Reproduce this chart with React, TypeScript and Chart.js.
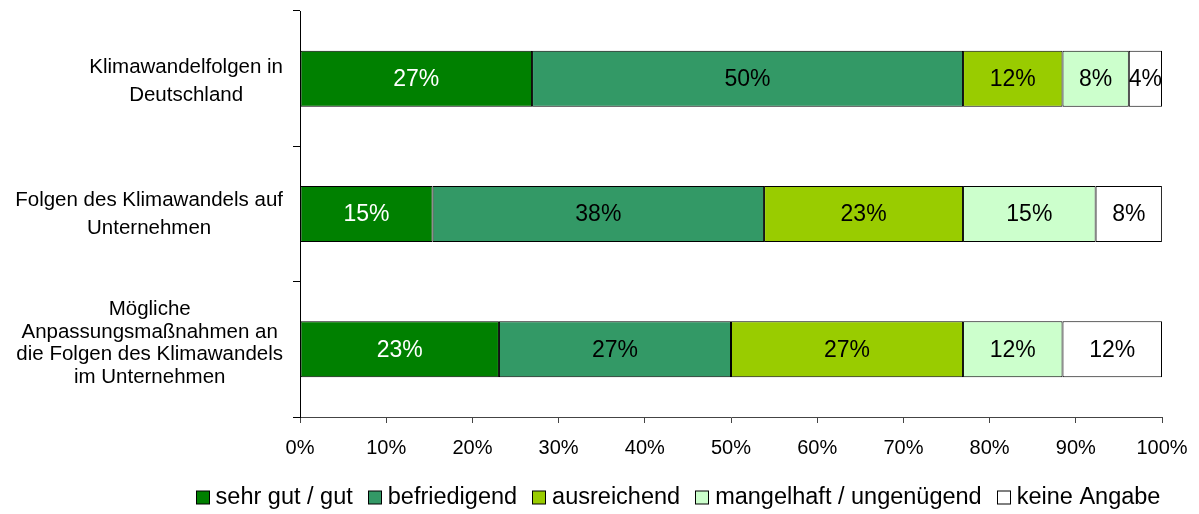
import React, { useEffect, useRef } from 'react';
import { Chart, registerables } from 'chart.js';

Chart.register(...registerables);

const categories: string[][] = [
  ['Klimawandelfolgen in', 'Deutschland'],
  ['Folgen des Klimawandels auf', 'Unternehmen'],
  ['Mögliche', 'Anpassungsmaßnahmen an', 'die Folgen des Klimawandels', 'im Unternehmen'],
];
const seriesNames = ['sehr gut / gut', 'befriedigend', 'ausreichend', 'mangelhaft / ungenügend', 'keine Angabe'];
const sehrGutGut = [26.92, 15.38, 23.08];
const befriedigend = [50.0, 38.46, 26.92];
const ausreichend = [11.54, 23.08, 26.92];
const mangelhaftUngenuegend = [7.69, 15.38, 11.54];
const keineAngabe = [3.85, 7.69, 11.54];
const xTicks = [0, 10, 20, 30, 40, 50, 60, 70, 80, 90, 100];

const seriesColors = ['#008000', '#339966', '#99CC00', '#CCFFCC', '#FFFFFF'];
const labelColors = ['#FFFFFF', '#000000', '#000000', '#000000', '#000000'];
const FONT = '"Liberation Sans", Arial, sans-serif';
// small vertical nudges of the category label blocks (layout only)
const categoryLabelShift = [3, 0, -6];

const valueLabelPlugin = {
  id: 'valueLabels',
  afterDatasetsDraw(chart: any) {
    const ctx = chart.ctx;
    ctx.save();
    ctx.font = `23px ${FONT}`;
    ctx.textAlign = 'center';
    ctx.textBaseline = 'middle';
    chart.data.datasets.forEach((ds: any, di: number) => {
      const meta = chart.getDatasetMeta(di);
      meta.data.forEach((el: any, i: number) => {
        const v = ds.data[i];
        const cx = (el.x + el.base) / 2;
        ctx.fillStyle = labelColors[di];
        ctx.fillText(Math.round(v) + '%', cx, el.y + 1);
      });
    });
    ctx.restore();
  },
};

const categoryLabelPlugin = {
  id: 'categoryLabels',
  afterDraw(chart: any) {
    const ctx = chart.ctx;
    const yScale = chart.scales.y;
    ctx.save();
    ctx.font = `20.5px ${FONT}`;
    ctx.textAlign = 'center';
    ctx.textBaseline = 'middle';
    ctx.fillStyle = '#000';
    const rightEdge = yScale.right - 17;
    (chart.data.labels as string[][]).forEach((lines, i) => {
      const lh = lines.length > 2 ? 22.5 : 28;
      const blockW = Math.max(...lines.map((l) => ctx.measureText(l).width));
      const cx = rightEdge - blockW / 2;
      const cy = yScale.getPixelForTick(i) + categoryLabelShift[i];
      const y0 = cy - ((lines.length - 1) * lh) / 2;
      lines.forEach((line, k) => {
        ctx.fillText(line, cx, y0 + k * lh);
      });
    });
    ctx.restore();
  },
};

const customLegendPlugin = {
  id: 'customLegend',
  afterDraw(chart: any) {
    const ctx = chart.ctx;
    ctx.save();
    const fontSize = 23.5;
    ctx.font = `${fontSize}px ${FONT}`;
    ctx.textBaseline = 'middle';
    ctx.textAlign = 'left';
    const box = 13;
    const boxGap = 7;
    const itemGap = 15;
    const widths = seriesNames.map((n) => ctx.measureText(n).width);
    const total = widths.reduce((a, w) => a + box + boxGap + w, 0) + itemGap * (seriesNames.length - 1);
    const centerX = 678;
    const cy = 497;
    let x = centerX - total / 2;
    seriesNames.forEach((name, i) => {
      ctx.fillStyle = seriesColors[i];
      ctx.fillRect(Math.round(x) + 0.5, cy - box / 2 + 0.5, box, box);
      ctx.strokeStyle = '#000';
      ctx.lineWidth = 1;
      ctx.strokeRect(Math.round(x) + 0.5, cy - box / 2 + 0.5, box, box);
      ctx.fillStyle = '#000';
      ctx.fillText(name, x + box + boxGap, cy + 1);
      x += box + boxGap + widths[i] + itemGap;
    });
    ctx.restore();
  },
};

export default function App() {
  const canvasRef = useRef<HTMLCanvasElement>(null);

  useEffect(() => {
    if (!canvasRef.current) return;
    const series = [sehrGutGut, befriedigend, ausreichend, mangelhaftUngenuegend, keineAngabe];
    const chart = new Chart(canvasRef.current, {
      type: 'bar',
      data: {
        labels: categories,
        datasets: series.map((data, i) => ({
          label: seriesNames[i],
          data,
          backgroundColor: seriesColors[i],
          borderColor: '#000000',
          borderWidth: 1,
          borderSkipped: false,
          categoryPercentage: 1,
          barPercentage: 0.414,
        })),
      },
      options: {
        indexAxis: 'y',
        responsive: false,
        animation: false,
        layout: { padding: { top: 11, right: 37, bottom: 47, left: 0 } },
        plugins: {
          legend: { display: false },
          tooltip: { enabled: false },
        },
        scales: {
          x: {
            stacked: true,
            min: 0,
            max: 100,
            afterBuildTicks: (s: any) => {
              s.ticks = xTicks.map((v) => ({ value: v }));
            },
            afterFit: (s: any) => {
              s.height = 50;
              s.paddingLeft = 0;
              s.paddingRight = 0;
            },
            ticks: {
              callback: (v: any) => v + '%',
              color: '#000',
              padding: 13,
              maxRotation: 0,
              autoSkip: false,
              font: { family: FONT, size: 20 },
            },
            grid: { drawOnChartArea: false, tickLength: 6, color: '#444' },
            border: { color: '#444', width: 1 },
          },
          y: {
            stacked: true,
            afterFit: (s: any) => {
              s.width = 300;
              s.paddingTop = 0;
              s.paddingBottom = 0;
            },
            ticks: {
              display: false,
            },
            grid: { offset: true, drawOnChartArea: false, drawTicks: true, tickLength: 7, color: '#000' },
            border: { color: '#000', width: 1 },
          },
        },
      },
      plugins: [valueLabelPlugin, categoryLabelPlugin, customLegendPlugin],
    } as any);
    return () => chart.destroy();
  }, []);

  return (
    <div style={{ position: 'fixed', left: 0, top: 0, width: 1199, height: 514, background: '#fff' }}>
      <canvas ref={canvasRef} width={1199} height={514} />
    </div>
  );
}
